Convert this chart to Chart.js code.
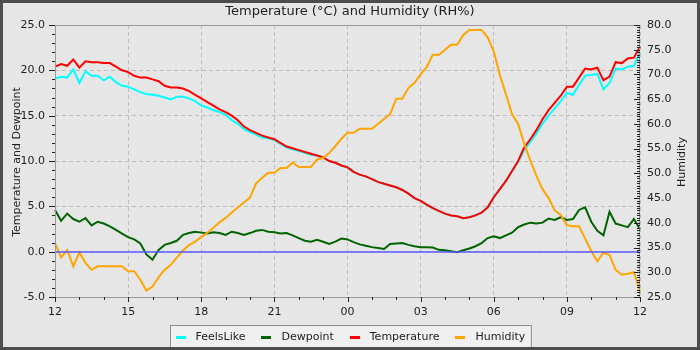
<!DOCTYPE html>
<html>
<head>
<meta charset="utf-8">
<script src="https://cdn.jsdelivr.net/npm/chart.js@4"></script>
<style>
  html, body { margin: 0; padding: 0; background: #e6e6e6; }
</style>
</head>
<body>
<canvas id="weatherChart" width="700" height="350"></canvas>
<script>
// sample times, every 15 minutes from noon to noon
const times = [
  '12:00','12:15','12:30','12:45','13:00','13:15','13:30','13:45','14:00','14:15','14:30','14:45',
  '15:00','15:15','15:30','15:45','16:00','16:15','16:30','16:45','17:00','17:15','17:30','17:45',
  '18:00','18:15','18:30','18:45','19:00','19:15','19:30','19:45','20:00','20:15','20:30','20:45',
  '21:00','21:15','21:30','21:45','22:00','22:15','22:30','22:45','23:00','23:15','23:30','23:45',
  '00:00','00:15','00:30','00:45','01:00','01:15','01:30','01:45','02:00','02:15','02:30','02:45',
  '03:00','03:15','03:30','03:45','04:00','04:15','04:30','04:45','05:00','05:15','05:30','05:45',
  '06:00','06:15','06:30','06:45','07:00','07:15','07:30','07:45','08:00','08:15','08:30','08:45',
  '09:00','09:15','09:30','09:45','10:00','10:15','10:30','10:45','11:00','11:15','11:30','11:45',
  '12:00'
];

// °C
const temperature = [
  20.4, 20.7, 20.5, 21.2, 20.3, 21.0, 20.9, 20.9, 20.8, 20.8, 20.4, 20.0,
  19.8, 19.4, 19.2, 19.2, 19.0, 18.8, 18.3, 18.1, 18.1, 18.0, 17.7, 17.3,
  16.9, 16.5, 16.1, 15.7, 15.4, 15.0, 14.5, 13.8, 13.4, 13.1, 12.8, 12.6,
  12.4, 12.0, 11.6, 11.4, 11.2, 11.0, 10.8, 10.6, 10.4, 10.0, 9.8, 9.5,
  9.3, 8.8, 8.5, 8.3, 8.0, 7.7, 7.5, 7.3, 7.1, 6.8, 6.4, 5.9,
  5.6, 5.2, 4.8, 4.5, 4.2, 4.0, 3.9, 3.7, 3.8, 4.0, 4.3, 4.9,
  6.0, 6.9, 7.8, 8.9, 10.0, 11.5, 12.4, 13.4, 14.6, 15.6, 16.4, 17.2,
  18.2, 18.2, 19.2, 20.2, 20.1, 20.3, 18.9, 19.3, 20.9, 20.8, 21.3, 21.4,
  22.6
];

const feelsLike = [
  19.1, 19.3, 19.2, 20.1, 18.6, 19.9, 19.4, 19.4, 18.9, 19.3, 18.7, 18.3,
  18.2, 17.9, 17.6, 17.4, 17.3, 17.2, 17.0, 16.8, 17.1, 17.1, 16.9, 16.6,
  16.1, 15.9, 15.6, 15.4, 15.1, 14.5, 14.1, 13.5, 13.2, 12.9, 12.6, 12.5,
  12.3, 11.9, 11.5, 11.3, 11.1, 10.9, 10.7, 10.6, 10.4, 10.0, 9.8, 9.5,
  9.3, 8.8, 8.5, 8.3, 8.0, 7.7, 7.5, 7.3, 7.1, 6.8, 6.4, 5.9,
  5.6, 5.2, 4.8, 4.5, 4.2, 4.0, 3.9, 3.7, 3.8, 4.0, 4.3, 4.9,
  6.0, 6.9, 7.8, 8.9, 9.9, 11.2, 12.1, 13.0, 14.1, 15.0, 15.8, 16.6,
  17.5, 17.3, 18.4, 19.4, 19.5, 19.6, 17.9, 18.6, 20.2, 20.1, 20.4, 20.5,
  22.0
];

const dewpoint = [
  4.6, 3.4, 4.2, 3.6, 3.3, 3.7, 2.9, 3.3, 3.1, 2.8, 2.4, 2.0,
  1.6, 1.35, 0.9, -0.3, -0.9, 0.2, 0.75, 0.95, 1.2, 1.85, 2.05, 2.2,
  2.1, 2.0, 2.15, 2.05, 1.85, 2.2, 2.05, 1.85, 2.05, 2.3, 2.4, 2.2,
  2.15, 2.0, 2.05, 1.8, 1.5, 1.2, 1.1, 1.3, 1.1, 0.85, 1.1, 1.45,
  1.35, 1.05, 0.8, 0.65, 0.5, 0.4, 0.3, 0.85, 0.9, 0.95, 0.75, 0.6,
  0.5, 0.5, 0.45, 0.2, 0.15, 0.05, -0.05, 0.15, 0.35, 0.6, 0.95, 1.5,
  1.7, 1.5, 1.8, 2.1, 2.7, 3.0, 3.2, 3.1, 3.2, 3.65, 3.5, 3.8,
  3.5, 3.6, 4.6, 4.9, 3.3, 2.3, 1.8, 4.4, 3.1, 2.9, 2.7, 3.6,
  2.5
];

// RH%
const humidity = [
  35.9, 33.0, 34.5, 31.2, 34.0, 31.9, 30.5, 31.2, 31.2, 31.2, 31.2, 31.2,
  30.2, 30.2, 28.5, 26.3, 27.1, 29.0, 30.5, 31.5, 33.0, 34.4, 35.5, 36.2,
  37.1, 38.0, 39.0, 40.1, 41.0, 42.1, 43.1, 44.1, 45.1, 48.0, 49.1, 50.1,
  50.1, 51.1, 51.1, 52.2, 51.3, 51.3, 51.3, 52.8, 53.1, 54.1, 55.5, 57.0,
  58.2, 58.2, 59.0, 59.0, 59.0, 60.0, 61.0, 62.0, 65.1, 65.1, 67.3, 68.3,
  70.0, 71.5, 74.0, 74.0, 75.0, 76.0, 76.0, 78.0, 79.0, 79.0, 79.0, 77.5,
  74.7, 69.9, 66.0, 62.0, 60.0, 56.0, 52.6, 49.5, 46.8, 45.0, 42.5, 41.6,
  39.5, 39.3, 39.3, 36.8, 34.3, 32.2, 34.0, 33.5, 30.5, 29.5, 29.7, 30.0,
  26.1
];

const tempTicks = [-5, 0, 5, 10, 15, 20, 25];
const humTicks = [25, 30, 35, 40, 45, 50, 55, 60, 65, 70, 75, 80];

const FONT = 'DejaVu Sans';
const TEXT = '#222';
const GRID = '#bdbdbd';

// frame, minor ticks, zero line, axis titles and the boxed legend
const decor = {
  id: 'decor',
  beforeDraw(chart) {
    const { ctx, width, height } = chart;
    ctx.save();
    ctx.fillStyle = '#e6e6e6';
    ctx.fillRect(0, 0, width, height);
    ctx.restore();
  },
  afterDatasetsDraw(chart) {
    const { ctx, chartArea, scales } = chart;
    const y = Math.round(scales.yLeft.getPixelForValue(0));
    ctx.save();
    ctx.strokeStyle = 'rgba(90, 90, 255, 0.75)';
    ctx.lineWidth = 2;
    ctx.beginPath();
    ctx.moveTo(chartArea.left, y);
    ctx.lineTo(chartArea.right, y);
    ctx.stroke();
    ctx.restore();
  },
  afterDraw(chart) {
    const { ctx, chartArea: a, scales } = chart;
    ctx.save();

    // plot frame
    ctx.strokeStyle = '#999';
    ctx.lineWidth = 1;
    ctx.strokeRect(a.left + 0.5, a.top + 0.5, a.right - a.left - 1, a.bottom - a.top);

    // tick marks
    ctx.strokeStyle = '#222';
    ctx.beginPath();
    for (let v = -5; v <= 25; v++) {
      const y = Math.round(scales.yLeft.getPixelForValue(v)) + 0.5;
      const len = v % 5 === 0 ? 6 : 3;
      ctx.moveTo(a.left - len, y);
      ctx.lineTo(a.left, y);
    }
    for (let v = 25; v <= 80; v += 0.5) {
      const y = Math.round(scales.yRight.getPixelForValue(v)) + 0.5;
      const len = v % 5 === 0 ? 6 : 3;
      ctx.moveTo(a.right - len, y);
      ctx.lineTo(a.right, y);
    }
    for (let i = 0; i < times.length; i += 4) {
      const x = Math.round(scales.x.getPixelForValue(i)) + 0.5;
      const len = i % 12 === 0 ? 5 : 3;
      ctx.moveTo(x, a.bottom);
      ctx.lineTo(x, a.bottom + len);
    }
    ctx.stroke();

    // axis titles, both reading bottom to top
    ctx.fillStyle = TEXT;
    ctx.font = `11px "${FONT}"`;
    ctx.textAlign = 'center';
    ctx.textBaseline = 'middle';
    const midY = (a.top + a.bottom) / 2 + 1;
    [['Temperature and Dewpoint', 17], ['Humidity', 682]].forEach(([txt, x]) => {
      ctx.save();
      ctx.translate(x, midY);
      ctx.rotate(-Math.PI / 2);
      ctx.fillText(txt, 0, 0);
      ctx.restore();
    });

    // legend box
    const items = chart.data.datasets.map(ds => ({
      label: ds.label, color: ds.borderColor, w: ctx.measureText(ds.label).width
    }));
    const lineW = 10, afterLine = 10, between = 16;
    const inner = items.reduce((s, it) => s + lineW + afterLine + it.w, 0) + between * (items.length - 1);
    const boxW = inner + 11;
    const boxL = Math.round(chart.width / 2 - boxW / 2) + 0.5;
    const boxT = 325.5;
    ctx.fillStyle = '#f0f0f0';
    ctx.fillRect(boxL, boxT, boxW, 30);
    ctx.strokeStyle = '#8c8c8c';
    ctx.strokeRect(boxL, boxT, boxW, 30);
    let x = boxL + 5;
    ctx.textAlign = 'left';
    items.forEach(it => {
      ctx.fillStyle = it.color;
      ctx.fillRect(Math.round(x), 336, lineW, 3);
      x += lineW + afterLine;
      ctx.fillStyle = TEXT;
      ctx.fillText(it.label, x, 337);
      x += it.w + between;
    });

    // outer border
    ctx.strokeStyle = '#4d4d4d';
    ctx.lineWidth = 3;
    ctx.strokeRect(1.5, 1.5, chart.width - 3, chart.height - 3);
    ctx.restore();
  }
};

const ctx = document.getElementById('weatherChart').getContext('2d');

const weatherChart = new Chart(ctx, {
  type: 'line',
  data: {
    labels: times,
    datasets: [
      { label: 'FeelsLike', data: feelsLike, borderColor: '#00ffff', yAxisID: 'yLeft', order: 4 },
      { label: 'Dewpoint', data: dewpoint, borderColor: '#006400', yAxisID: 'yLeft', order: 3 },
      { label: 'Temperature', data: temperature, borderColor: '#ff0000', yAxisID: 'yLeft', order: 2 },
      { label: 'Humidity', data: humidity, borderColor: '#ffa500', yAxisID: 'yRight', order: 1 },
    ],
  },
  options: {
    responsive: false,
    animation: false,
    devicePixelRatio: 1,
    layout: { padding: { bottom: 33 } },
    elements: {
      line: { borderWidth: 2, tension: 0, fill: false },
      point: { radius: 0, hoverRadius: 0 },
    },
    plugins: {
      legend: { display: false },
      tooltip: { enabled: false },
      title: {
        display: true,
        text: 'Temperature (°C) and Humidity (RH%)',
        color: TEXT,
        font: { family: FONT, size: 13, weight: 'normal' },
        padding: { top: 4, bottom: 5.4 },
      },
    },
    scales: {
      x: {
        type: 'category',
        grid: {
          color: c => (c.index % 12 === 0 ? GRID : 'transparent'),
          drawTicks: false,
        },
        border: { display: false, dash: [4, 3] },
        ticks: {
          autoSkip: false,
          maxRotation: 0,
          minRotation: 0,
          padding: 9,
          color: TEXT,
          font: { family: FONT, size: 11 },
          callback: (v, i) => (i % 12 === 0 ? times[i].slice(0, 2) : ''),
        },
        afterFit: s => { s.height = 20; },
      },
      yLeft: {
        position: 'left',
        min: tempTicks[0],
        max: tempTicks[tempTicks.length - 1],
        afterBuildTicks: s => { s.ticks = tempTicks.map(v => ({ value: v })); },
        grid: { color: GRID, drawTicks: false },
        border: { display: false, dash: [4, 3] },
        ticks: {
          padding: 10,
          color: TEXT,
          font: { family: FONT, size: 11 },
          callback: v => v.toFixed(1),
        },
        afterFit: s => { s.width = 55; },
      },
      yRight: {
        position: 'right',
        min: humTicks[0],
        max: humTicks[humTicks.length - 1],
        afterBuildTicks: s => { s.ticks = humTicks.map(v => ({ value: v })); },
        grid: { drawOnChartArea: false, drawTicks: false },
        border: { display: false },
        ticks: {
          padding: 7,
          color: TEXT,
          font: { family: FONT, size: 11 },
          callback: v => v.toFixed(1),
        },
        afterFit: s => { s.width = 60; },
      },
    },
  },
  plugins: [decor],
});
</script>
</body>
</html>
